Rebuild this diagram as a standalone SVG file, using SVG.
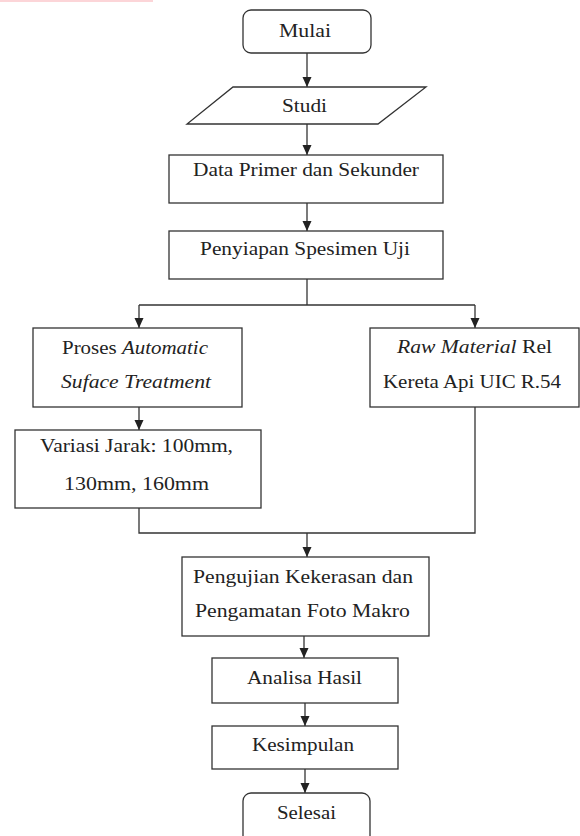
<svg xmlns="http://www.w3.org/2000/svg" width="580" height="836" viewBox="0 0 580 836">
<style>
.box{fill:#fff;stroke:#333;stroke-width:1.3}
.ln{fill:none;stroke:#333;stroke-width:1.3}
text{font-family:'Liberation Serif','DejaVu Serif',serif;font-size:18px;fill:#222}
.i{font-style:italic}
</style>
<defs>
<marker id="ah" markerUnits="userSpaceOnUse" markerWidth="10" markerHeight="10" viewBox="0 0 10 10" refX="10" refY="5" orient="auto">
<path d="M0,0.5 L10,5 L0,9.5 Z" fill="#222"/>
</marker>
</defs>
<rect x="0" y="0" width="153" height="2" fill="#fcd5d8"/>
<g id="connectors">
<line class="ln" x1="307" y1="53" x2="307" y2="87" marker-end="url(#ah)"/>
<line class="ln" x1="307" y1="124" x2="307" y2="155" marker-end="url(#ah)"/>
<line class="ln" x1="307" y1="203" x2="307" y2="231" marker-end="url(#ah)"/>
<polyline class="ln" points="307,279 307,305"/>
<polyline class="ln" points="139,305 475,305"/>
<line class="ln" x1="139" y1="305" x2="139" y2="328" marker-end="url(#ah)"/>
<line class="ln" x1="475" y1="305" x2="475" y2="328" marker-end="url(#ah)"/>
<line class="ln" x1="139" y1="407" x2="139" y2="430" marker-end="url(#ah)"/>
<polyline class="ln" points="139,508 139,533 475,533 475,407"/>
<line class="ln" x1="307" y1="533" x2="307" y2="557" marker-end="url(#ah)"/>
<line class="ln" x1="304" y1="636" x2="304" y2="658" marker-end="url(#ah)"/>
<line class="ln" x1="305" y1="703" x2="305" y2="726" marker-end="url(#ah)"/>
<line class="ln" x1="305" y1="769" x2="305" y2="793" marker-end="url(#ah)"/>
</g>
<g id="mulai">
<rect class="box" x="243" y="10" width="128" height="43" rx="8"/>
<text font-family="Liberation Serif, serif" x="279" y="37" textLength="52" lengthAdjust="spacingAndGlyphs">Mulai</text>
</g>
<g id="studi">
<polygon class="box" points="233,87 426,87 378,124 187,124"/>
<text font-family="Liberation Serif, serif" x="282" y="112" textLength="45" lengthAdjust="spacingAndGlyphs">Studi</text>
</g>
<g id="data">
<rect class="box" x="169" y="155" width="274" height="48"/>
<text font-family="Liberation Serif, serif" x="193" y="176" textLength="226" lengthAdjust="spacingAndGlyphs">Data Primer dan Sekunder</text>
</g>
<g id="penyiapan">
<rect class="box" x="169" y="231" width="274" height="48"/>
<text font-family="Liberation Serif, serif" x="200" y="255" textLength="210" lengthAdjust="spacingAndGlyphs">Penyiapan Spesimen Uji</text>
</g>
<g id="proses">
<rect class="box" x="33" y="328" width="209" height="79"/>
<text font-family="Liberation Serif, serif" x="62" y="354" textLength="146" lengthAdjust="spacingAndGlyphs">Proses <tspan class="i">Automatic</tspan></text>
<text font-family="Liberation Serif, serif" class="i" x="61" y="388" textLength="150" lengthAdjust="spacingAndGlyphs">Suface Treatment</text>
</g>
<g id="raw">
<rect class="box" x="370" y="328" width="209" height="79"/>
<text font-family="Liberation Serif, serif" x="397" y="353" textLength="155" lengthAdjust="spacingAndGlyphs"><tspan class="i">Raw Material</tspan> Rel</text>
<text font-family="Liberation Serif, serif" x="383" y="388" textLength="178" lengthAdjust="spacingAndGlyphs">Kereta Api UIC R.54</text>
</g>
<g id="variasi">
<rect class="box" x="15" y="430" width="246" height="78"/>
<text font-family="Liberation Serif, serif" x="40" y="452" textLength="193" lengthAdjust="spacingAndGlyphs">Variasi Jarak: 100mm,</text>
<text font-family="Liberation Serif, serif" x="64" y="490" textLength="145" lengthAdjust="spacingAndGlyphs">130mm, 160mm</text>
</g>
<g id="pengujian">
<rect class="box" x="182" y="557" width="247" height="79"/>
<text font-family="Liberation Serif, serif" x="193" y="583" textLength="220" lengthAdjust="spacingAndGlyphs">Pengujian Kekerasan dan</text>
<text font-family="Liberation Serif, serif" x="195" y="617" textLength="215" lengthAdjust="spacingAndGlyphs">Pengamatan Foto Makro</text>
</g>
<g id="analisa">
<rect class="box" x="212" y="658" width="186" height="45"/>
<text font-family="Liberation Serif, serif" x="247" y="684" textLength="115" lengthAdjust="spacingAndGlyphs">Analisa Hasil</text>
</g>
<g id="kesimpulan">
<rect class="box" x="212" y="726" width="186" height="43"/>
<text font-family="Liberation Serif, serif" x="252" y="751" textLength="102" lengthAdjust="spacingAndGlyphs">Kesimpulan</text>
</g>
<g id="selesai">
<rect class="box" x="243" y="793" width="127" height="60" rx="8"/>
<text font-family="Liberation Serif, serif" x="277" y="819" textLength="59" lengthAdjust="spacingAndGlyphs">Selesai</text>
</g>
</svg>
